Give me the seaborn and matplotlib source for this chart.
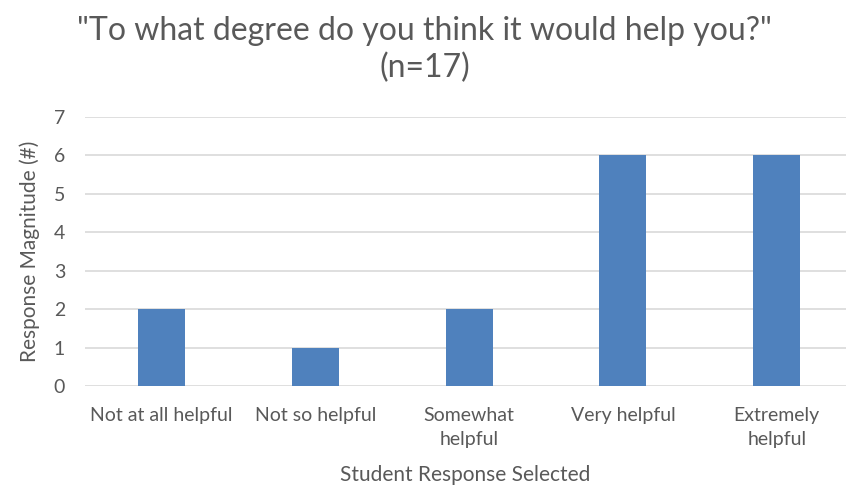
import seaborn as sns
import matplotlib.pyplot as plt
import pandas as pd

categories = ['Not at all helpful', 'Not so helpful', 'Somewhat helpful',
              'Very helpful', 'Extremely helpful']
tick_labels = ['Not at all helpful', 'Not so helpful', 'Somewhat\nhelpful',
               'Very helpful', 'Extremely\nhelpful']
counts = [2, 1, 2, 6, 6]

df = pd.DataFrame({'response': categories, 'count': counts})

sns.set_theme(style='white')
plt.rcParams['font.family'] = ['Lato', 'DejaVu Sans']
txt = '#595959'

fig = plt.figure(figsize=(8.46, 4.92), dpi=100)
ax = fig.add_axes([0.1, 0.2154, 0.9, 0.5467])

sns.barplot(data=df, x='response', y='count', color='#4F81BD',
            width=0.306, saturation=1, linewidth=0, ax=ax, zorder=3)

ax.set_ylim(0, 7)
ax.set_xlim(-0.5, 4.45)
ax.set_yticks(range(0, 8))
ax.yaxis.grid(True, color='#D9D9D9', linewidth=1.2, zorder=0)
ax.set_axisbelow(True)
for s in ax.spines.values():
    s.set_visible(False)
ax.set_xticks(range(len(tick_labels)))
ax.set_xticklabels(tick_labels, fontsize=14, color=txt, linespacing=1.5)
ax.tick_params(axis='y', labelsize=14, colors=txt, length=0, pad=14)
ax.tick_params(axis='x', length=0, pad=15)

ax.set_xlabel('Student Response Selected', fontsize=15, color=txt, labelpad=12)
ax.set_ylabel('Response Magnitude (#)', fontsize=15, color=txt, labelpad=10)

fig.text(0.502, 0.938, '"To what degree do you think it would help you?"',
         ha='center', va='center', fontsize=23, color=txt)
fig.text(0.502, 0.862, '(n=17)', ha='center', va='center', fontsize=23, color=txt)

fig.savefig('out.png', dpi=100)
